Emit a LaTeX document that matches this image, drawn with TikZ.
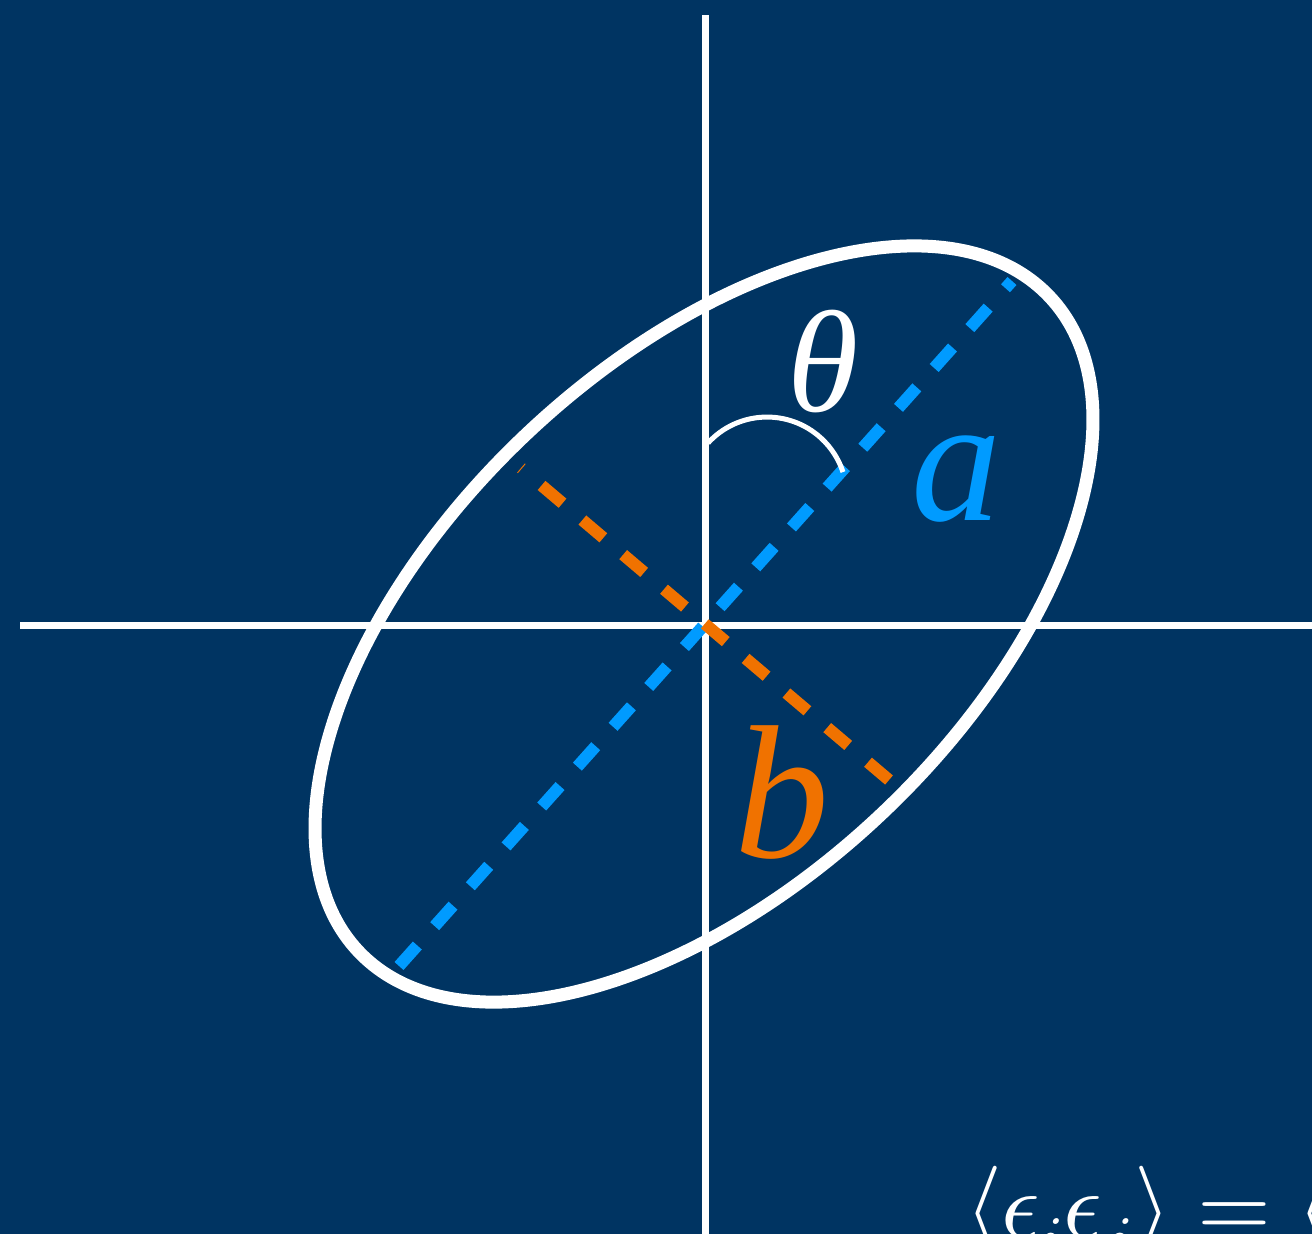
\documentclass[tikz,border=0pt]{standalone}
\usepackage{fontspec}
\newfontfamily\lblfont{Liberation Serif}
\DeclareFontShape{OML}{cmm}{m}{it}{<-> cmmi10}{}
\DeclareFontShape{OMS}{cmsy}{m}{n}{<-> cmsy10}{}
\DeclareFontShape{OT1}{cmr}{m}{n}{<-> cmr10}{}
\definecolor{bgnavy}{RGB}{0,52,98}
\definecolor{majorblue}{RGB}{0,155,255}
\definecolor{minororange}{RGB}{240,114,0}
\newcommand{\lowsub}[1]{\lower 11pt\hbox{$\scriptstyle #1$}}
\begin{document}
\begin{tikzpicture}[x=1pt,y=1pt,
  axisline/.style={white, line width=7pt},
  ellline/.style={white, line width=13pt},
  axisdash/.style={line width=12pt, dash pattern=on 27.5pt off 26pt},
  lbl/.style={inner sep=0pt, outer sep=0pt}]
\fill[bgnavy] (0,0) rectangle (1312,-1234);
\useasboundingbox (0,0) rectangle (1312,-1234);
\clip (0,0) rectangle (1312,-1234);
% axes
\coordinate (vtop) at (705,-15);
\coordinate (vbot) at (705,-1240);
\coordinate (hleft) at (20,-625);
\coordinate (hright) at (1320,-625);
\draw[axisline] (vtop) -- (vbot);
\draw[axisline] (hleft) -- (hright);
% ellipse
\coordinate (ec) at (704,-624);
\draw[ellline, rotate around={43.5:(ec)}] (ec) ellipse [x radius=476, y radius=260];
% major axis (blue) and minor axis (orange)
\coordinate (aS) at (399,-966);
\coordinate (aE) at (1012,-281);
\draw[axisdash, majorblue] (aS) -- (aE);
\coordinate (bS) at (889,-780);
\coordinate (bE) at (521,-468);
\draw[axisdash, minororange] (bS) -- (bE);
% angle arc
\coordinate (arcS) at (708,-443);
\draw[white, line width=5pt] (arcS) arc[start angle=137.5, end angle=18.2, radius=80];
% labels
\node[lbl, white, font={\lblfont\itshape\fontsize{145}{160}\selectfont}] (theta) at (823,-362) {θ};
\node[lbl, majorblue, font={\lblfont\itshape\fontsize{180}{210}\selectfont}] (alabel) at (956,-479) {a};
\node[lbl, minororange, font={\lblfont\itshape\fontsize{190}{220}\selectfont}] (blabel) at (782,-793) {b};
\node[lbl, white, anchor=base west, font={\fontsize{95}{110}\selectfont}] (eq) at (965,-1237) {$\langle\epsilon_{\lowsub{i}}\epsilon_{\lowsub{j}}\rangle = \langle$};
\end{tikzpicture}
\end{document}
